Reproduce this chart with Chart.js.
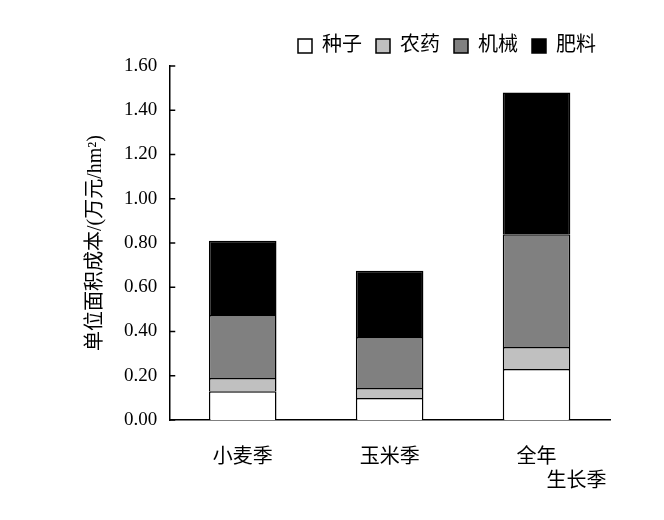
<!DOCTYPE html>
<html><head><meta charset="utf-8">
<script src="https://cdn.jsdelivr.net/npm/chart.js@4/dist/chart.umd.min.js"></script>
<style>body{margin:0;background:#fff}</style>
</head><body>
<canvas id="c" width="664" height="520"></canvas>
<script>
const categories = [['小麦季'], ['玉米季'], ['全年', '\u3000\u3000\u3000\u3000生长季']];
const seed = [0.13, 0.10, 0.23];
const pesticide = [0.06, 0.045, 0.10];
const machinery = [0.285, 0.23, 0.51];
const fertilizer = [0.335, 0.30, 0.64];
const yTicks = [0, 0.2, 0.4, 0.6, 0.8, 1.0, 1.2, 1.4, 1.6];

const font = "'Liberation Serif', 'Noto Sans CJK SC', serif";
const mk = (label, data, color) => ({
  label, data, backgroundColor: color, borderColor: '#000', borderWidth: 1.5,
  barPercentage: 0.46, categoryPercentage: 1
});

new Chart(document.getElementById('c'), {
  type: 'bar',
  data: {
    labels: categories,
    datasets: [
      mk('种子', seed, '#ffffff'),
      mk('农药', pesticide, '#c0c0c0'),
      mk('机械', machinery, '#808080'),
      mk('肥料', fertilizer, '#000000'),
    ],
  },
  options: {
    responsive: false,
    animation: false,
    layout: { padding: { left: 80, right: 54, top: 22, bottom: 0 } },
    plugins: {
      legend: {
        align: 'end',
        labels: {
          color: '#000', boxWidth: 14, boxHeight: 14, padding: 14,
          font: { family: font, size: 20 },
        },
      },
      tooltip: { enabled: false },
    },
    scales: {
      x: {
        stacked: true,
        grid: { display: false, drawTicks: false },
        border: { color: '#000', width: 1.5 },
        ticks: { color: '#000', padding: 26, font: { family: font, size: 20 } },
      },
      y: {
        stacked: true,
        min: 0, max: 1.6,
        afterBuildTicks: (s) => { s.ticks = yTicks.map(v => ({ value: v })); },
        grid: { display: false, drawTicks: false },
        border: { color: '#000', width: 1.5 },
        ticks: {
          color: '#000', padding: 12, font: { family: font, size: 19 },
          callback: (v) => Number(v).toFixed(2),
        },
        title: {
          display: true, text: '单位面积成本/(万元/hm²)', color: '#000',
          font: { family: font, size: 20 },
        },
      },
    },
  },
  plugins: [{
    id: 'innerTicks',
    afterDraw(chart) {
      const y = chart.scales.y, ctx = chart.ctx;
      ctx.save();
      ctx.strokeStyle = '#000'; ctx.lineWidth = 1.5;
      yTicks.forEach(v => {
        const p = y.getPixelForValue(v);
        ctx.beginPath(); ctx.moveTo(y.right, p); ctx.lineTo(y.right + 6, p); ctx.stroke();
      });
      ctx.restore();
    },
  }],
});
</script>
</body></html>
